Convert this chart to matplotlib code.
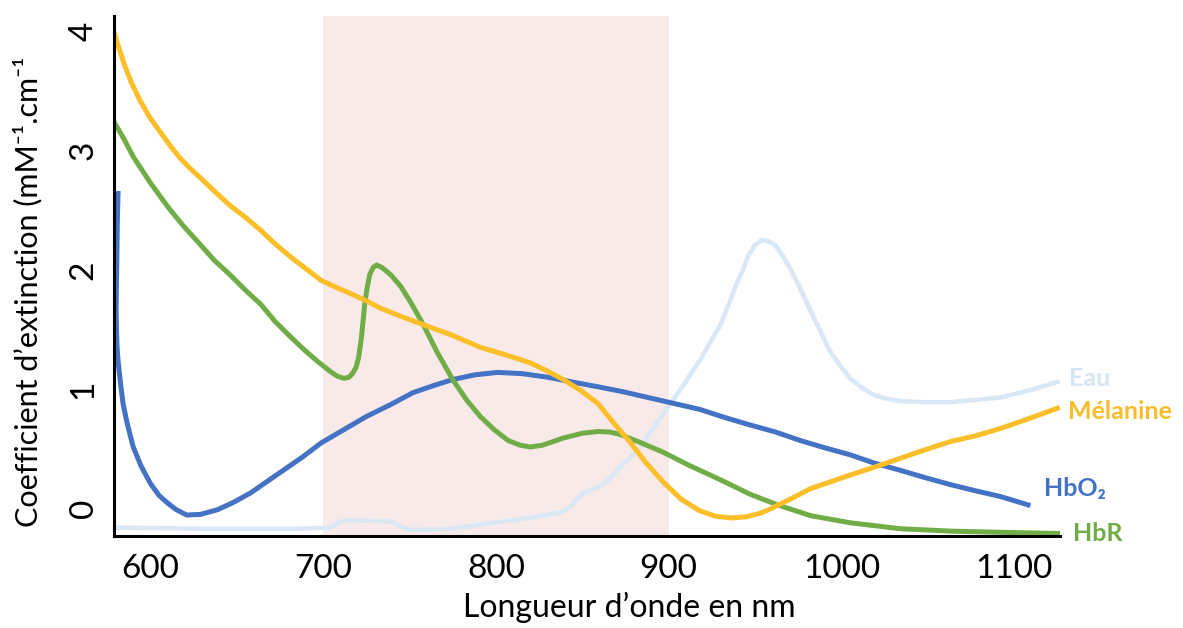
import matplotlib.pyplot as plt

plt.rcParams['font.family'] = ['Lato', 'DejaVu Sans']

# longueurs d'onde (nm) et coefficients
eau_nm = [579, 629, 687, 704, 707, 710, 716, 733, 740, 745, 750, 760, 772, 787, 801, 815, 830,
          838, 843, 847, 851, 856, 860, 866, 872, 878, 884, 890, 897, 907, 918, 924, 930, 935,
          939, 943, 946, 950, 954, 958, 962, 966, 970, 976, 982, 988, 993, 999, 1005, 1012,
          1019, 1026, 1034, 1048, 1063, 1078, 1092, 1109, 1125]
eau_val = [-0.16, -0.17, -0.17, -0.16, -0.135, -0.11, -0.10, -0.105, -0.11, -0.15, -0.18, -0.178,
           -0.172, -0.145, -0.115, -0.09, -0.055, -0.03, 0.01, 0.08, 0.13, 0.16, 0.18, 0.25, 0.35,
           0.43, 0.52, 0.65, 0.80, 1.00, 1.24, 1.39, 1.54, 1.72, 1.87, 2.00, 2.12, 2.21, 2.25,
           2.24, 2.20, 2.12, 2.02, 1.85, 1.66, 1.48, 1.33, 1.20, 1.09, 1.01, 0.95, 0.92, 0.90,
           0.89, 0.89, 0.91, 0.93, 0.99, 1.06]

hbo2_nm = [581.3, 580.9, 580.7, 580.4, 580.2, 580.4, 580.7, 581.2, 581.9, 583, 584.2, 586.5, 590,
           594.5, 600, 605, 610, 615, 621, 629, 639, 648, 658, 667, 677, 688, 699, 712, 725, 739,
           752, 764, 775, 788, 801, 815, 830, 844, 859, 873, 888, 903, 918, 933, 947, 962, 976,
           990, 1005, 1019, 1034, 1048, 1063, 1077, 1092, 1108]
hbo2_val = [2.64, 2.40, 2.17, 1.90, 1.66, 1.50, 1.37, 1.26, 1.16, 1.02, 0.88, 0.72, 0.52, 0.36,
            0.21, 0.11, 0.045, -0.01, -0.055, -0.05, -0.01, 0.05, 0.13, 0.22, 0.32, 0.43, 0.55,
            0.66, 0.77, 0.87, 0.97, 1.03, 1.08, 1.12, 1.14, 1.13, 1.10, 1.06, 1.02, 0.98, 0.93,
            0.88, 0.83, 0.76, 0.70, 0.64, 0.57, 0.51, 0.45, 0.38, 0.32, 0.26, 0.20, 0.15, 0.10, 0.03]

hbr_nm = [579, 585, 590, 600, 610, 619, 629, 637, 646, 655, 664, 672, 681, 689, 697, 704, 708,
          712, 715, 717, 719, 720.5, 722, 723, 724, 725.5, 727, 729, 731, 734, 739, 745, 751,
          758, 766, 775, 783, 791, 799, 807, 814, 820, 827, 839, 850, 859, 866, 872, 884, 897,
          912, 930, 947, 963, 982, 1005, 1034, 1063, 1092, 1126]
hbr_val = [3.24, 3.09, 2.95, 2.73, 2.53, 2.37, 2.21, 2.08, 1.96, 1.83, 1.71, 1.57, 1.44, 1.33,
           1.23, 1.15, 1.11, 1.09, 1.10, 1.13, 1.18, 1.26, 1.41, 1.55, 1.70, 1.85, 1.96, 2.02,
           2.04, 2.02, 1.96, 1.86, 1.72, 1.54, 1.31, 1.08, 0.91, 0.77, 0.66, 0.57, 0.53, 0.515,
           0.53, 0.59, 0.63, 0.645, 0.64, 0.62, 0.55, 0.47, 0.36, 0.24, 0.12, 0.03, -0.06, -0.12,
           -0.17, -0.19, -0.20, -0.21]

mel_nm = [579, 582, 585, 589, 594, 600, 606, 612, 617, 623, 629, 637, 646, 655, 664, 672, 681,
          690, 699, 708, 716, 725, 733, 745, 758, 775, 791, 805, 820, 830, 839, 849, 859, 868,
          878, 887, 897, 907, 918, 927, 936, 945, 953, 958, 963, 972, 982, 993, 1005, 1020, 1034,
          1048, 1063, 1078, 1092, 1108, 1125]
mel_val = [3.99, 3.85, 3.72, 3.57, 3.42, 3.27, 3.15, 3.03, 2.94, 2.85, 2.77, 2.66, 2.54, 2.44,
           2.33, 2.22, 2.11, 2.01, 1.91, 1.85, 1.80, 1.74, 1.68, 1.61, 1.54, 1.45, 1.35, 1.29,
           1.22, 1.15, 1.08, 0.99, 0.88, 0.72, 0.55, 0.38, 0.22, 0.08, -0.02, -0.065, -0.08,
           -0.07, -0.04, -0.01, 0.025, 0.09, 0.165, 0.22, 0.28, 0.35, 0.42, 0.49, 0.56, 0.61,
           0.67, 0.75, 0.84]

x_ticks = [600, 700, 800, 900, 1000, 1100]
y_ticks = [0, 1, 2, 3, 4]

fig = plt.figure(figsize=(11.83, 6.28), dpi=100)
ax = fig.add_axes([0.0964, 0.1465, 0.7996, 0.828])

ax.axvspan(700, 900, color='#F9EAEA', lw=0, zorder=0)

ax.plot(eau_nm, eau_val, color='#DAE8F5', lw=3.3, solid_joinstyle='round')
ax.plot(hbo2_nm, hbo2_val, color='#4472C4', lw=3.6, solid_joinstyle='round')
ax.plot(hbr_nm, hbr_val, color='#70AD47', lw=3.6, solid_joinstyle='round')
ax.plot(mel_nm, mel_val, color='#FCBF2A', lw=3.6, solid_joinstyle='round')

ax.set_xlim(579, 1126.5)
ax.set_ylim(-0.231, 4.127)
ax.set_xticks(x_ticks)
ax.set_yticks(y_ticks)
ax.tick_params(length=0, labelsize=24)
ax.tick_params(axis='x', pad=13)
ax.tick_params(axis='y', pad=11)
for lbl in ax.get_yticklabels():
    lbl.set_rotation(90)
    lbl.set_va('center')

for s in ['top', 'right']:
    ax.spines[s].set_visible(False)
for s in ['left', 'bottom']:
    ax.spines[s].set_linewidth(2.2)
    ax.spines[s].set_color('black')

# étiquettes des courbes
ax.text(1132, 1.09, 'Eau', color='#D6E5F4', fontsize=18, fontweight='bold', va='center', clip_on=False)
ax.text(1131, 0.81, 'Mélanine', color='#F8BD2B', fontsize=18, fontweight='bold', va='center', clip_on=False)
ax.text(1117, 0.17, 'HbO₂', color='#4472C4', fontsize=18, fontweight='bold', va='center', clip_on=False)
ax.text(1134, -0.21, 'HbR', color='#70AD47', fontsize=18, fontweight='bold', va='center', clip_on=False)

fig.text(629 / 1183, 1 - 607 / 628, 'Longueur d’onde en nm', fontsize=23, ha='center', va='center')
fig.text(28 / 1183, 1 - 292 / 628, 'Coefficient d’extinction (mM⁻¹.cm⁻¹', fontsize=22,
         rotation=90, ha='center', va='center')

fig.savefig('out.png', dpi=100)
